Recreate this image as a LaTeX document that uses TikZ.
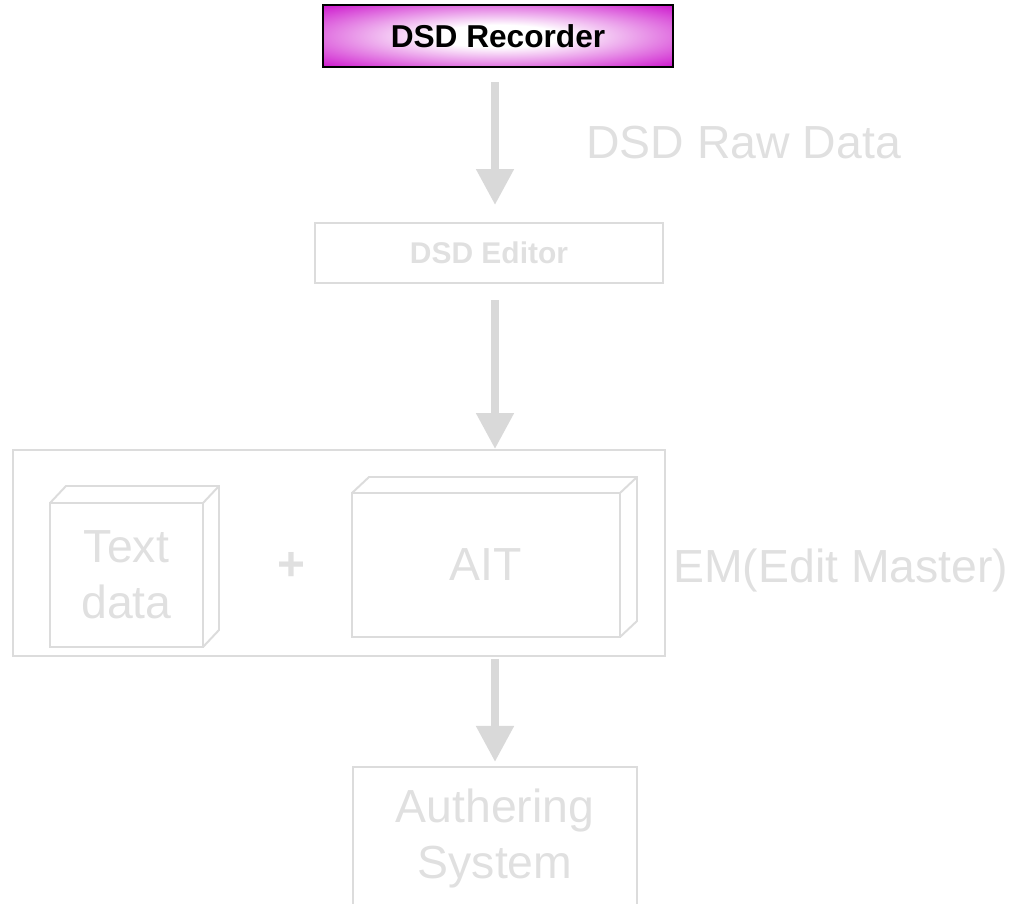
\documentclass[tikz,border=0pt]{standalone}
\usepackage{fontspec}
\setmainfont{Liberation Sans}
\usetikzlibrary{arrows.meta}
\definecolor{linegray}{HTML}{DCDCDC}
\definecolor{textgray}{HTML}{E0E0E0}
\definecolor{arrowgray}{HTML}{D9D9D9}
\definecolor{recmag}{HTML}{C800C8}
\pgfdeclareradialshading{recglow}{\pgfpoint{0bp}{0bp}}{color(0bp)=(white); color(9bp)=(white); color(38bp)=(recmag); color(50bp)=(recmag)}
\newcommand{\pxu}{0.025cm}

\begin{document}
\begin{tikzpicture}[x=0.025cm,y=-0.025cm,
  box/.style={draw=linegray,line width=1.4pt,inner sep=0pt,outer sep=0pt,text=textgray,align=center},
  bigtxt/.style={font=\fontsize{33pt}{39.8pt}\selectfont},
  bigarrow/.style={draw=arrowgray,line width=5.7pt,-{Triangle[width=25.6pt,length=25.6pt]}}]
\useasboundingbox (0,0) rectangle (1016,903);
\node[draw=black,line width=1pt,shading=recglow,minimum width=350*\pxu,minimum height=62*\pxu,inner sep=0pt,outer sep=0pt,font=\bfseries\fontsize{22.5pt}{28pt}\selectfont] (rec) at (498,36) {DSD Recorder};
\node[box,minimum width=348*\pxu,minimum height=60*\pxu,font=\bfseries\fontsize{21.3pt}{25pt}\selectfont] (ed) at (489,253) {DSD Editor};
\node[box,minimum width=652*\pxu,minimum height=206*\pxu] (em) at (339,553) {};
\node[box,bigtxt,minimum width=153*\pxu,minimum height=144*\pxu] (txt) at (126.5,575) {Text\\data};
\node[box,bigtxt,minimum width=268*\pxu,minimum height=144*\pxu] (ait) at (486,565) {AIT};
\node[text=textgray,font=\bfseries\fontsize{34pt}{36pt}\selectfont] (plus) at (291,566) {+};
\node[box,bigtxt,minimum width=284*\pxu,minimum height=143*\pxu,anchor=north] (auth) at (495,767) {Authering\\System};
\node[text=textgray,bigtxt,anchor=base west,inner sep=0pt] (raw) at (586,158) {DSD Raw Data};
\node[text=textgray,bigtxt,anchor=base west,inner sep=0pt] (emlbl) at (673,582) {EM(Edit Master)};
\draw[linegray,line width=1.4pt] (txt.north west) -- ++(16,-17) -- ++(153,0) -- ++(0,144) -- (txt.south east);
\draw[linegray,line width=1.4pt] (txt.north east) -- ++(16,-17);
\draw[linegray,line width=1.4pt] (ait.north west) -- ++(17,-16) -- ++(268,0) -- ++(0,144) -- (ait.south east);
\draw[linegray,line width=1.4pt] (ait.north east) -- ++(17,-16);
\draw[bigarrow,shorten <=10.7pt,shorten >=12.8pt] (rec.south -| auth.north) -- (ed.north -| auth.north);
\draw[bigarrow,shorten <=12.1pt,shorten >=0.7pt] (ed.south -| auth.north) -- (em.north -| auth.north);
\draw[bigarrow,shorten <=2.1pt,shorten >=3.6pt] (em.south -| auth.north) -- (auth.north);
\end{tikzpicture}
\end{document}
